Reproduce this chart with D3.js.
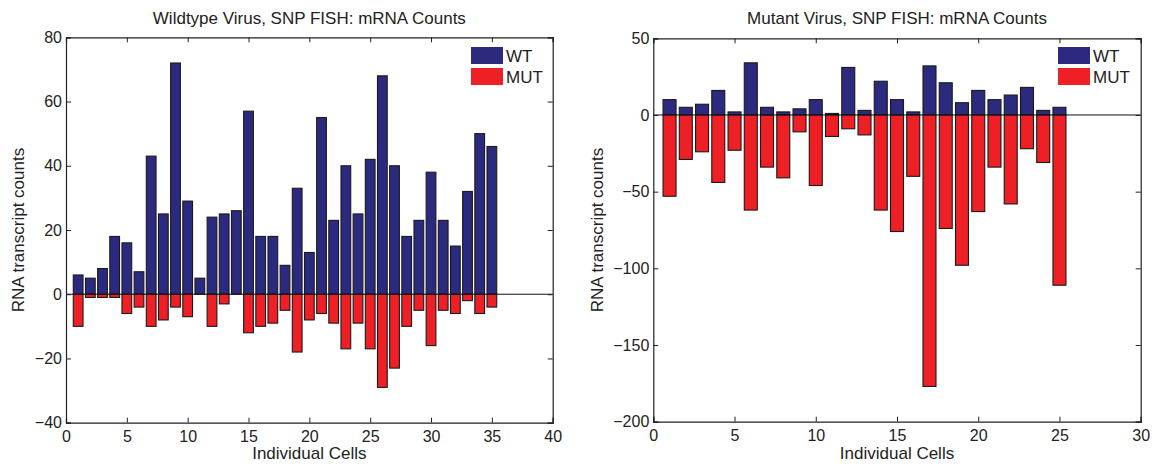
<!DOCTYPE html>
<html>
<head>
<meta charset="utf-8">
<script src="https://cdn.jsdelivr.net/npm/d3@7"></script>
<style>
  html, body { margin: 0; padding: 0; background: #fff; }
  svg text { font-family: "Liberation Sans", Arial, Helvetica, sans-serif; fill: #222; }
</style>
</head>
<body>
<svg id="chart" width="1158" height="464"></svg>
<script>
// Wildtype virus: per-cell WT and MUT transcript counts
const wtCells = d3.range(1, 36);
const wtSeriesWT = [6, 5, 8, 18, 16, 7, 43, 25, 72, 29, 5, 24, 25, 26, 57, 18, 18, 9, 33, 13,
                    55, 23, 40, 25, 42, 68, 40, 18, 23, 38, 23, 15, 32, 50, 46];
const wtSeriesMUT = [-10, -1, -1, -1, -6, -4, -10, -8, -4, -7, 0, -10, -3, 0, -12, -10, -9, -5, -18, -8,
                     -6, -9, -17, -9, -17, -29, -23, -10, -5, -16, -5, -6, -2, -6, -4];

// Mutant virus: per-cell WT and MUT transcript counts
const mutCells = d3.range(1, 26);
const mutSeriesWT = [10, 5, 7, 16, 2, 34, 5, 2, 4, 10, 1, 31, 3, 22, 10, 2, 32, 21, 8, 16,
                     10, 13, 18, 3, 5];
const mutSeriesMUT = [-53, -29, -24, -44, -23, -62, -34, -41, -11, -46, -14, -9, -13, -62, -76, -40, -177, -74, -98, -63,
                      -34, -58, -22, -31, -111];

const leftXTicks = [0, 5, 10, 15, 20, 25, 30, 35, 40];
const leftYTicks = [-40, -20, 0, 20, 40, 60, 80];
const rightXTicks = [0, 5, 10, 15, 20, 25, 30];
const rightYTicks = [-200, -150, -100, -50, 0, 50];
const seriesNames = ["WT", "MUT"];

const COLORS = { WT: "#2b2a7e", MUT: "#ee1f25" };
const FONT = 17;
const TICK_FONT = 16;
const svg = d3.select("#chart");
const fmt = d => (d < 0 ? "\u2212" + Math.abs(d) : String(d));

function panel(opts) {
  const { left, right, top, bottom, xDomain, yDomain, xTicks, yTicks,
          cells, wt, mut, title, legendX, yLabelX } = opts;
  const x = d3.scaleLinear().domain(xDomain).range([left, right]);
  const y = d3.scaleLinear().domain(yDomain).range([bottom, top]);
  const g = svg.append("g");
  const barW = x(0.8) - x(0);

  // bars
  const drawBars = (vals, color) => {
    g.append("g").selectAll("rect").data(cells.map((c, i) => ({ c, v: vals[i] })))
      .enter().filter(d => d.v !== 0).append("rect")
      .attr("x", d => x(d.c) - barW / 2)
      .attr("width", barW)
      .attr("y", d => Math.min(y(d.v), y(0)))
      .attr("height", d => Math.abs(y(d.v) - y(0)))
      .attr("fill", color)
      .attr("stroke", "#1a1a1a")
      .attr("stroke-width", 1.1);
  };
  drawBars(wt, COLORS.WT);
  drawBars(mut, COLORS.MUT);

  // baseline at zero
  g.append("line").attr("x1", left).attr("x2", right)
    .attr("y1", y(0)).attr("y2", y(0))
    .attr("stroke", "#111").attr("stroke-width", 1);

  // axes with inward ticks on all four sides
  const tl = 5;
  const bottomAxis = d3.axisBottom(x).tickValues(xTicks).tickSize(-tl).tickPadding(8).tickFormat(fmt);
  const leftAxis = d3.axisLeft(y).tickValues(yTicks).tickSize(-tl).tickPadding(4).tickFormat(fmt);
  const topAxis = d3.axisTop(x).tickValues(xTicks).tickSize(-tl).tickFormat("");
  const rightAxis = d3.axisRight(y).tickValues(yTicks).tickSize(-tl).tickFormat("");

  const styleAxis = sel => {
    sel.select(".domain").attr("stroke", "#222").attr("stroke-width", 1.2);
    sel.selectAll(".tick line").attr("stroke", "#222");
    sel.selectAll("text").attr("font-size", TICK_FONT).attr("fill", "#222")
      .attr("font-family", "'Liberation Sans', Arial, Helvetica, sans-serif");
  };
  g.append("g").attr("transform", `translate(0,${bottom})`).call(bottomAxis).call(styleAxis);
  g.append("g").attr("transform", `translate(${left},0)`).call(leftAxis).call(styleAxis);
  g.append("g").attr("transform", `translate(0,${top})`).call(topAxis).call(styleAxis);
  g.append("g").attr("transform", `translate(${right},0)`).call(rightAxis).call(styleAxis);

  // titles and labels
  g.append("text").attr("x", (left + right) / 2).attr("y", 24)
    .attr("text-anchor", "middle").attr("font-size", FONT).text(title);
  g.append("text").attr("x", (left + right) / 2).attr("y", 459)
    .attr("text-anchor", "middle").attr("font-size", FONT).text("Individual Cells");
  g.append("text")
    .attr("transform", `translate(${yLabelX},${(top + bottom) / 2}) rotate(-90)`)
    .attr("text-anchor", "middle").attr("font-size", FONT).text("RNA transcript counts");

  // legend
  const leg = g.append("g");
  seriesNames.forEach((name, i) => {
    const ly = 47 + i * 21;
    leg.append("rect").attr("x", legendX).attr("y", ly).attr("width", 32).attr("height", 17)
      .attr("fill", COLORS[name]);
    leg.append("text").attr("x", legendX + 35).attr("y", ly + 15)
      .attr("font-size", FONT).text(name);
  });
}

panel({
  left: 66, right: 552.7, top: 37.3, bottom: 422.7,
  xDomain: [0, 40], yDomain: [-40, 80],
  xTicks: leftXTicks, yTicks: leftYTicks,
  cells: wtCells, wt: wtSeriesWT, mut: wtSeriesMUT,
  title: "Wildtype Virus, SNP FISH: mRNA Counts",
  legendX: 471, yLabelX: 24
});

panel({
  left: 653.3, right: 1140.7, top: 38.3, bottom: 421.7,
  xDomain: [0, 30], yDomain: [-200, 50],
  xTicks: rightXTicks, yTicks: rightYTicks,
  cells: mutCells, wt: mutSeriesWT, mut: mutSeriesMUT,
  title: "Mutant Virus, SNP FISH: mRNA Counts",
  legendX: 1058, yLabelX: 603
});
</script>
</body>
</html>
